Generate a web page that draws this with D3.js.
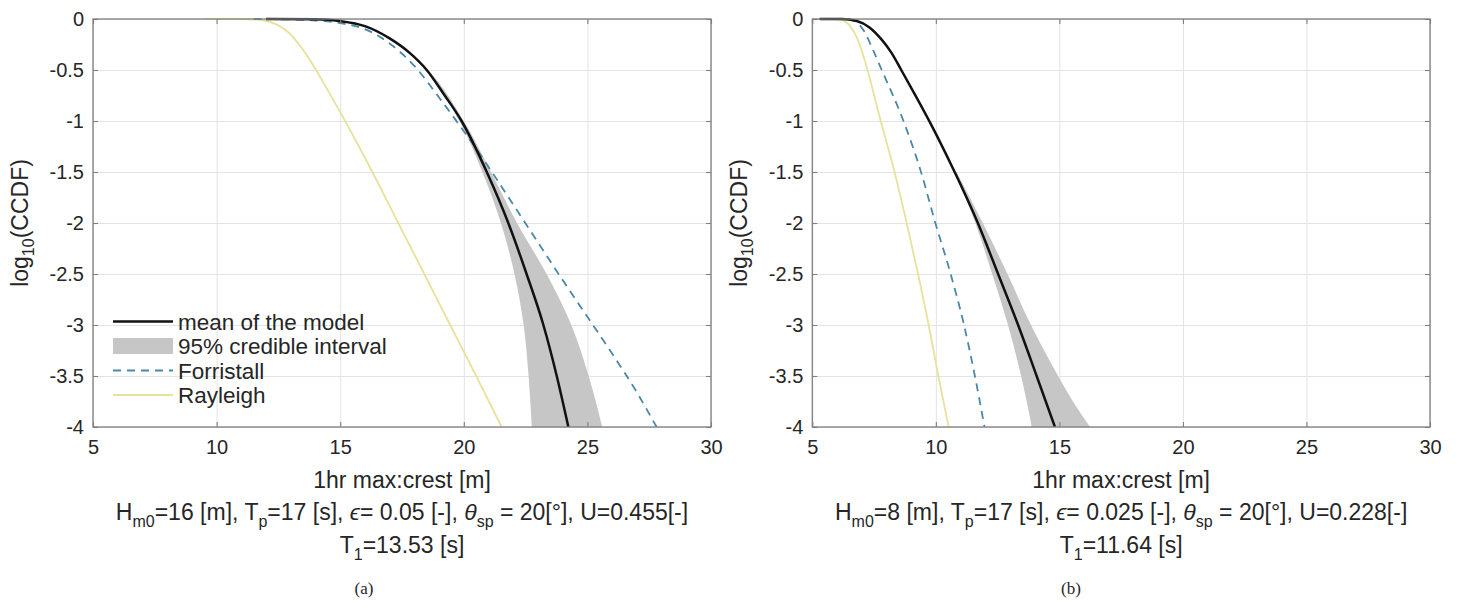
<!DOCTYPE html>
<html><head><meta charset="utf-8">
<script src="https://cdn.jsdelivr.net/npm/d3@7"></script>
<style>
html,body{margin:0;padding:0;background:#fff;}
svg text{font-family:"Liberation Sans",Arial,sans-serif;fill:#262626;}
</style></head>
<body>
<svg id="chart" width="1462" height="609"></svg>
<script>
// ---------- data ----------
const xTicks = [5, 10, 15, 20, 25, 30];
const yTicks = [0, -0.5, -1, -1.5, -2, -2.5, -3, -3.5, -4];
const yTickLabels = ["0", "-0.5", "-1", "-1.5", "-2", "-2.5", "-3", "-3.5", "-4"];
const legendLabels = ["mean of the model", "95% credible interval", "Forristall", "Rayleigh"];

// panel (a)
const meanA_x = [12, 14, 15, 16, 17, 17.8, 18.5, 19.2, 19.91, 20.93, 21.8, 22.54, 23.22, 23.76, 24.23];
const meanA_y = [0, -0.003, -0.02, -0.07, -0.19, -0.33, -0.5, -0.74, -1, -1.5, -2, -2.5, -3, -3.5, -4];
const ciA_level = [-0.25, -0.5, -1, -1.5, -2, -2.5, -3, -3.5, -4];
const ciA_lo = [17.38, 18.45, 19.82, 20.75, 21.5, 22.05, 22.42, 22.62, 22.75];
const ciA_hi = [17.42, 18.55, 20.0, 21.1, 22.15, 23.35, 24.35, 25.05, 25.6];
const forrA_x = [11.5, 13, 14, 15, 16, 17, 18, 19, 20, 20.5, 21, 22, 23, 24, 25, 26, 27, 27.8];
const forrA_y = [0, -0.004, -0.015, -0.04, -0.1, -0.24, -0.46, -0.77, -1.1, -1.27, -1.45, -1.82, -2.19, -2.56, -2.92, -3.28, -3.66, -4];
const rayA_x = [9.5, 11.0, 11.8, 12.4, 12.9, 13.4, 13.9, 14.5, 15.2, 16.3, 17.35, 18.4, 19.45, 20.5, 21.53];
const rayA_y = [0, 0, -0.01, -0.05, -0.13, -0.27, -0.45, -0.7, -1, -1.5, -2, -2.5, -3, -3.5, -4];

// panel (b)
const meanB_x = [5.3, 6.2, 6.8, 7.3, 7.8, 8.2, 8.6, 9.2, 9.8, 10.8, 11.7, 12.52, 13.33, 14.08, 14.82];
const meanB_y = [0, 0, -0.02, -0.08, -0.2, -0.33, -0.5, -0.76, -1.03, -1.52, -2, -2.5, -3, -3.5, -4];
const ciB_level = [-1.5, -2, -2.5, -3, -3.5, -3.75, -4];
const ciB_lo = [10.76, 11.6, 12.28, 12.92, 13.45, 13.68, 13.88];
const ciB_hi = [10.84, 11.9, 12.9, 13.85, 14.95, 15.55, 16.24];
const forrB_x = [5.3, 6.3, 6.7, 7.1, 7.45, 7.81, 8.69, 9.4, 9.98, 10.6, 11.14, 11.58, 11.97];
const forrB_y = [0, 0, -0.02, -0.12, -0.3, -0.5, -1, -1.5, -2, -2.5, -3, -3.5, -4];
const rayB_x = [5, 5.8, 6.2, 6.5, 6.8, 7.0, 7.2, 7.77, 8.33, 8.82, 9.28, 9.71, 10.1, 10.52];
const rayB_y = [0, 0, -0.01, -0.06, -0.18, -0.31, -0.47, -1, -1.5, -2, -2.5, -3, -3.5, -4];

const panels = [
  {id: "a", left: 93, right: 711, caption: "(a)", capX: 364, Hm0: "16", eps: "0.05", U: "0.455", T1: "13.53",
   mean: [meanA_x, meanA_y], ci: [ciA_level, ciA_lo, ciA_hi], forr: [forrA_x, forrA_y], ray: [rayA_x, rayA_y], legend: true},
  {id: "b", left: 812.3, right: 1430, caption: "(b)", capX: 1071, Hm0: "8", eps: "0.025", U: "0.228", T1: "11.64",
   mean: [meanB_x, meanB_y], ci: [ciB_level, ciB_lo, ciB_hi], forr: [forrB_x, forrB_y], ray: [rayB_x, rayB_y], legend: false}
];

// ---------- style ----------
const TOP = 19, BOTTOM = 427;
const C_MEAN = "#111111", C_CI = "#c6c6c6", C_FORR = "#4a88a6", C_RAY = "#e7e29c";
const C_GRID = "#e3e3e3", C_AXIS = "#7f7f7f";

const svg = d3.select("#chart");
const zip = (xs, ys) => xs.map((v, i) => [v, ys[i]]);

panels.forEach(p => {
  const x = d3.scaleLinear().domain([5, 30]).range([p.left, p.right]);
  const y = d3.scaleLinear().domain([-4, 0]).range([BOTTOM, TOP]);
  const g = svg.append("g");

  // grid
  g.append("g").attr("transform", `translate(0,${BOTTOM})`)
    .call(d3.axisBottom(x).tickValues(xTicks).tickSize(-(BOTTOM - TOP)).tickFormat(""))
    .call(s => { s.select(".domain").remove(); s.selectAll("line").attr("stroke", C_GRID).attr("stroke-width", 1); });
  g.append("g").attr("transform", `translate(${p.left},0)`)
    .call(d3.axisLeft(y).tickValues(yTicks).tickSize(-(p.right - p.left)).tickFormat(""))
    .call(s => { s.select(".domain").remove(); s.selectAll("line").attr("stroke", C_GRID).attr("stroke-width", 1); });

  // clip
  const clipId = "clip" + p.id;
  svg.append("clipPath").attr("id", clipId).append("rect")
    .attr("x", p.left).attr("y", TOP - 2).attr("width", p.right - p.left).attr("height", BOTTOM - TOP + 2);
  const plot = g.append("g").attr("clip-path", `url(#${clipId})`);

  // credible interval band
  const ciData = p.ci[0].map((lv, i) => ({lv, lo: p.ci[1][i], hi: p.ci[2][i]}));
  plot.append("path").datum(ciData)
    .attr("d", d3.area().y(d => y(d.lv)).x0(d => x(d.lo)).x1(d => x(d.hi)).curve(d3.curveMonotoneY))
    .attr("fill", C_CI).attr("stroke", "none");

  const line = d3.line().x(d => x(d[0])).y(d => y(d[1])).curve(d3.curveMonotoneX);
  plot.append("path").datum(zip(p.ray[0], p.ray[1])).attr("d", line)
    .attr("fill", "none").attr("stroke", C_RAY).attr("stroke-width", 1.8);
  plot.append("path").datum(zip(p.forr[0], p.forr[1])).attr("d", line)
    .attr("fill", "none").attr("stroke", C_FORR).attr("stroke-width", 1.8).attr("stroke-dasharray", "8,6");
  plot.append("path").datum(zip(p.mean[0], p.mean[1])).attr("d", line)
    .attr("fill", "none").attr("stroke", C_MEAN).attr("stroke-width", 2.5);

  // box
  g.append("rect").attr("x", p.left).attr("y", TOP).attr("width", p.right - p.left).attr("height", BOTTOM - TOP)
    .attr("fill", "none").attr("stroke", C_AXIS).attr("stroke-width", 1.3);

  // axes (inward ticks on all four sides)
  const styleAxis = s => {
    s.select(".domain").remove();
    s.selectAll("line").attr("stroke", C_AXIS).attr("stroke-width", 1.1);
    s.selectAll("text").attr("font-size", 20).attr("fill", "#262626").attr("font-family", "Liberation Sans, Arial, sans-serif");
  };
  g.append("g").attr("transform", `translate(0,${BOTTOM})`)
    .call(d3.axisBottom(x).tickValues(xTicks).tickSize(-5).tickSizeOuter(0).tickPadding(13).tickFormat(d3.format("d")))
    .call(styleAxis);
  g.append("g").attr("transform", `translate(0,${TOP})`)
    .call(d3.axisTop(x).tickValues(xTicks).tickSize(-5).tickSizeOuter(0).tickFormat(""))
    .call(styleAxis);
  g.append("g").attr("transform", `translate(${p.left},0)`)
    .call(d3.axisLeft(y).tickValues(yTicks).tickSize(-5).tickSizeOuter(0).tickPadding(9)
      .tickFormat((d, i) => yTickLabels[i]))
    .call(styleAxis);
  g.append("g").attr("transform", `translate(${p.right},0)`)
    .call(d3.axisRight(y).tickValues(yTicks).tickSize(-5).tickSizeOuter(0).tickFormat(""))
    .call(styleAxis);

  // y label
  const yl = g.append("text").attr("transform", `translate(${p.left - 65},${(TOP + BOTTOM) / 2}) rotate(-90)`)
    .attr("text-anchor", "middle").attr("font-size", 23);
  yl.append("tspan").text("log");
  yl.append("tspan").attr("font-size", 16).attr("dy", 6).text("10");
  yl.append("tspan").attr("dy", -6).text("(CCDF)");

  // x label (three lines)
  const cx = (p.left + p.right) / 2;
  g.append("text").attr("x", cx).attr("y", 488).attr("text-anchor", "middle").attr("font-size", 23)
    .text("1hr max:crest [m]");
  const t2 = g.append("text").attr("x", cx).attr("y", 520).attr("text-anchor", "middle").attr("font-size", 23);
  const sub = (t, s) => t.append("tspan").attr("font-size", 16).attr("dy", 7).text(s);
  const up = (t, s) => t.append("tspan").attr("dy", -7).text(s);
  t2.append("tspan").text("H");
  sub(t2, "m0");
  up(t2, `=${p.Hm0} [m], T`);
  sub(t2, "p");
  up(t2, "=17 [s], ");
  t2.append("tspan").attr("font-style", "italic").text("ϵ");
  t2.append("tspan").text(`= ${p.eps} [-], `);
  t2.append("tspan").attr("font-style", "italic").text("θ");
  sub(t2, "sp");
  up(t2, ` = 20[°], U=${p.U}[-]`);
  const t3 = g.append("text").attr("x", cx).attr("y", 553).attr("text-anchor", "middle").attr("font-size", 23);
  t3.append("tspan").text("T");
  sub(t3, "1");
  up(t3, `=${p.T1} [s]`);

  // caption
  g.append("text").attr("x", p.capX).attr("y", 594).attr("text-anchor", "middle")
    .attr("font-size", 17).style("font-family", "'Liberation Serif','DejaVu Serif',serif").text(p.caption);

  // legend
  if (p.legend) {
    const lg = g.append("g");
    const rows = [321.5, 346, 370.5, 395];
    const sx0 = 113, sx1 = 173, tx = 178;
    lg.append("line").attr("x1", sx0).attr("x2", sx1).attr("y1", rows[0]).attr("y2", rows[0])
      .attr("stroke", C_MEAN).attr("stroke-width", 2.5);
    lg.append("rect").attr("x", sx0).attr("y", rows[1] - 8).attr("width", sx1 - sx0).attr("height", 16).attr("fill", C_CI);
    lg.append("line").attr("x1", sx0).attr("x2", sx1).attr("y1", rows[2]).attr("y2", rows[2])
      .attr("stroke", C_FORR).attr("stroke-width", 1.8).attr("stroke-dasharray", "8,6");
    lg.append("line").attr("x1", sx0).attr("x2", sx1).attr("y1", rows[3]).attr("y2", rows[3])
      .attr("stroke", C_RAY).attr("stroke-width", 1.8);
    legendLabels.forEach((t, i) => {
      lg.append("text").attr("x", tx).attr("y", rows[i] + 8).attr("font-size", 22.5).text(t);
    });
  }
});
</script>
</body></html>
